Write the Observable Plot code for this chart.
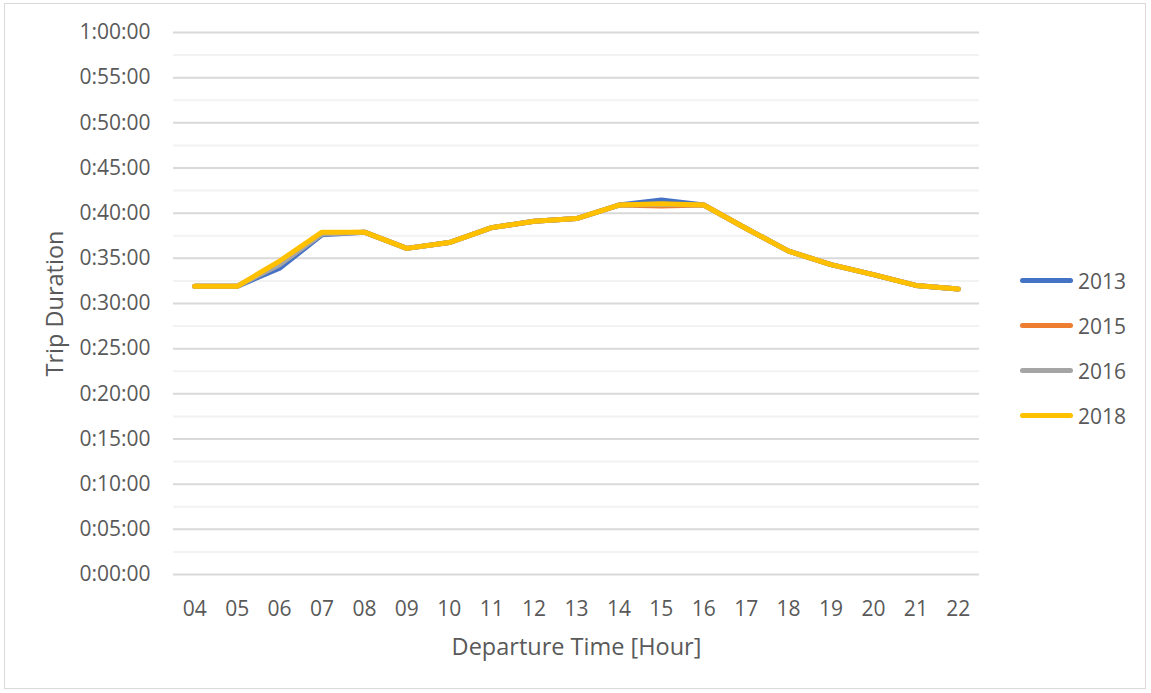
<!DOCTYPE html>
<html><head><meta charset="utf-8">
<script src="https://cdn.jsdelivr.net/npm/d3@7"></script>
<script src="https://cdn.jsdelivr.net/npm/@observablehq/plot@0.6"></script>
<style>
html,body{margin:0;padding:0;background:#fff;}
#wrap{position:relative;width:1151px;height:693px;font-family:"Open Sans",sans-serif;}
#border{position:absolute;left:4px;top:3px;width:1142px;height:686px;border:1.5px solid #d9d9d9;box-sizing:border-box;}
#legend{position:absolute;left:1020px;top:258px;}
.li{display:flex;align-items:center;height:45px;font-size:21px;color:#595959;}
.sw{width:53px;height:5px;border-radius:3px;margin-right:5px;}
</style></head>
<body><div id="wrap"><div id="border"></div><div id="chart"></div><div id="legend"></div></div>
<script>
const hours = ["04","05","06","07","08","09","10","11","12","13","14","15","16","17","18","19","20","21","22"];
const years = ["2013","2015","2016","2018"];
const colors = ["#4472C4","#ED7D31","#A5A5A5","#FFC000"];
// trip duration in minutes
const v2013 = [31.9,31.9,33.9,37.6,37.9,36.1,36.75,38.4,39.1,39.4,40.9,41.45,40.9,38.3,35.8,34.3,33.2,32.0,31.6];
const v2015 = [31.9,31.9,34.5,37.8,37.9,36.1,36.75,38.4,39.1,39.4,40.9,40.8,40.9,38.3,35.8,34.3,33.2,32.0,31.6];
const v2016 = [31.9,31.9,34.3,37.7,37.9,36.1,36.75,38.4,39.1,39.4,40.9,41.0,40.9,38.3,35.8,34.3,33.2,32.0,31.6];
const v2018 = [31.9,31.9,34.7,37.9,37.9,36.1,36.75,38.4,39.1,39.4,40.9,41.05,40.9,38.3,35.8,34.3,33.2,32.0,31.6];
const series = [v2013,v2015,v2016,v2018];
const yTicks = d3.range(0,61,5);
const yMinor = d3.range(2.5,60,5);

const data = [];
years.forEach((y,i)=>hours.forEach((h,j)=>data.push({year:y,hour:h,min:series[i][j]})));

const fmt = m => { const s = Math.round(m*60); const h = Math.floor(s/3600); const mm = Math.floor((s%3600)/60); const ss = s%60; return h+":"+String(mm).padStart(2,"0")+":"+String(ss).padStart(2,"0"); };

const chart = Plot.plot({
  width: 1151, height: 693,
  marginLeft: 173, marginRight: 172, marginTop: 32, marginBottom: 119,
  style: {fontFamily: "Open Sans, sans-serif", fontSize: "21px", color: "#595959", background: "transparent"},
  x: {type: "point", domain: hours, padding: 0.5, round: false, label: null},
  y: {domain: [0,60], label: null},
  color: {domain: years, range: colors},
  marks: [
    Plot.ruleY(yMinor, {stroke: "#f2f2f2", strokeWidth: 2}),
    Plot.ruleY(yTicks, {stroke: "#d9d9d9", strokeWidth: 2}),
    Plot.axisY({ticks: yTicks, tickFormat: fmt, tickSize: 0, tickPadding: 23, label: null, fontSize: 21}),
    Plot.axisX({tickSize: 0, tickPadding: 27, label: null, fontSize: 21}),
    Plot.line(data, {x: "hour", y: "min", z: "year", stroke: "year", strokeWidth: 5, strokeLinejoin: "round", strokeLinecap: "round"}),
    Plot.text(["Departure Time [Hour]"], {frameAnchor: "bottom", dy: 80, fontSize: 23.5, fill: "#595959"}),
    Plot.text(["Trip Duration"], {frameAnchor: "left", dx: -118, rotate: -90, textAnchor: "middle", fontSize: 23.5, fill: "#595959"})
  ]
});
document.getElementById("chart").appendChild(chart);
const lg = document.getElementById("legend");
years.forEach((y,i)=>{
  const d = document.createElement("div"); d.className="li";
  d.innerHTML = `<div class="sw" style="background:${colors[i]}"></div><span>${y}</span>`;
  lg.appendChild(d);
});
</script></body></html>
